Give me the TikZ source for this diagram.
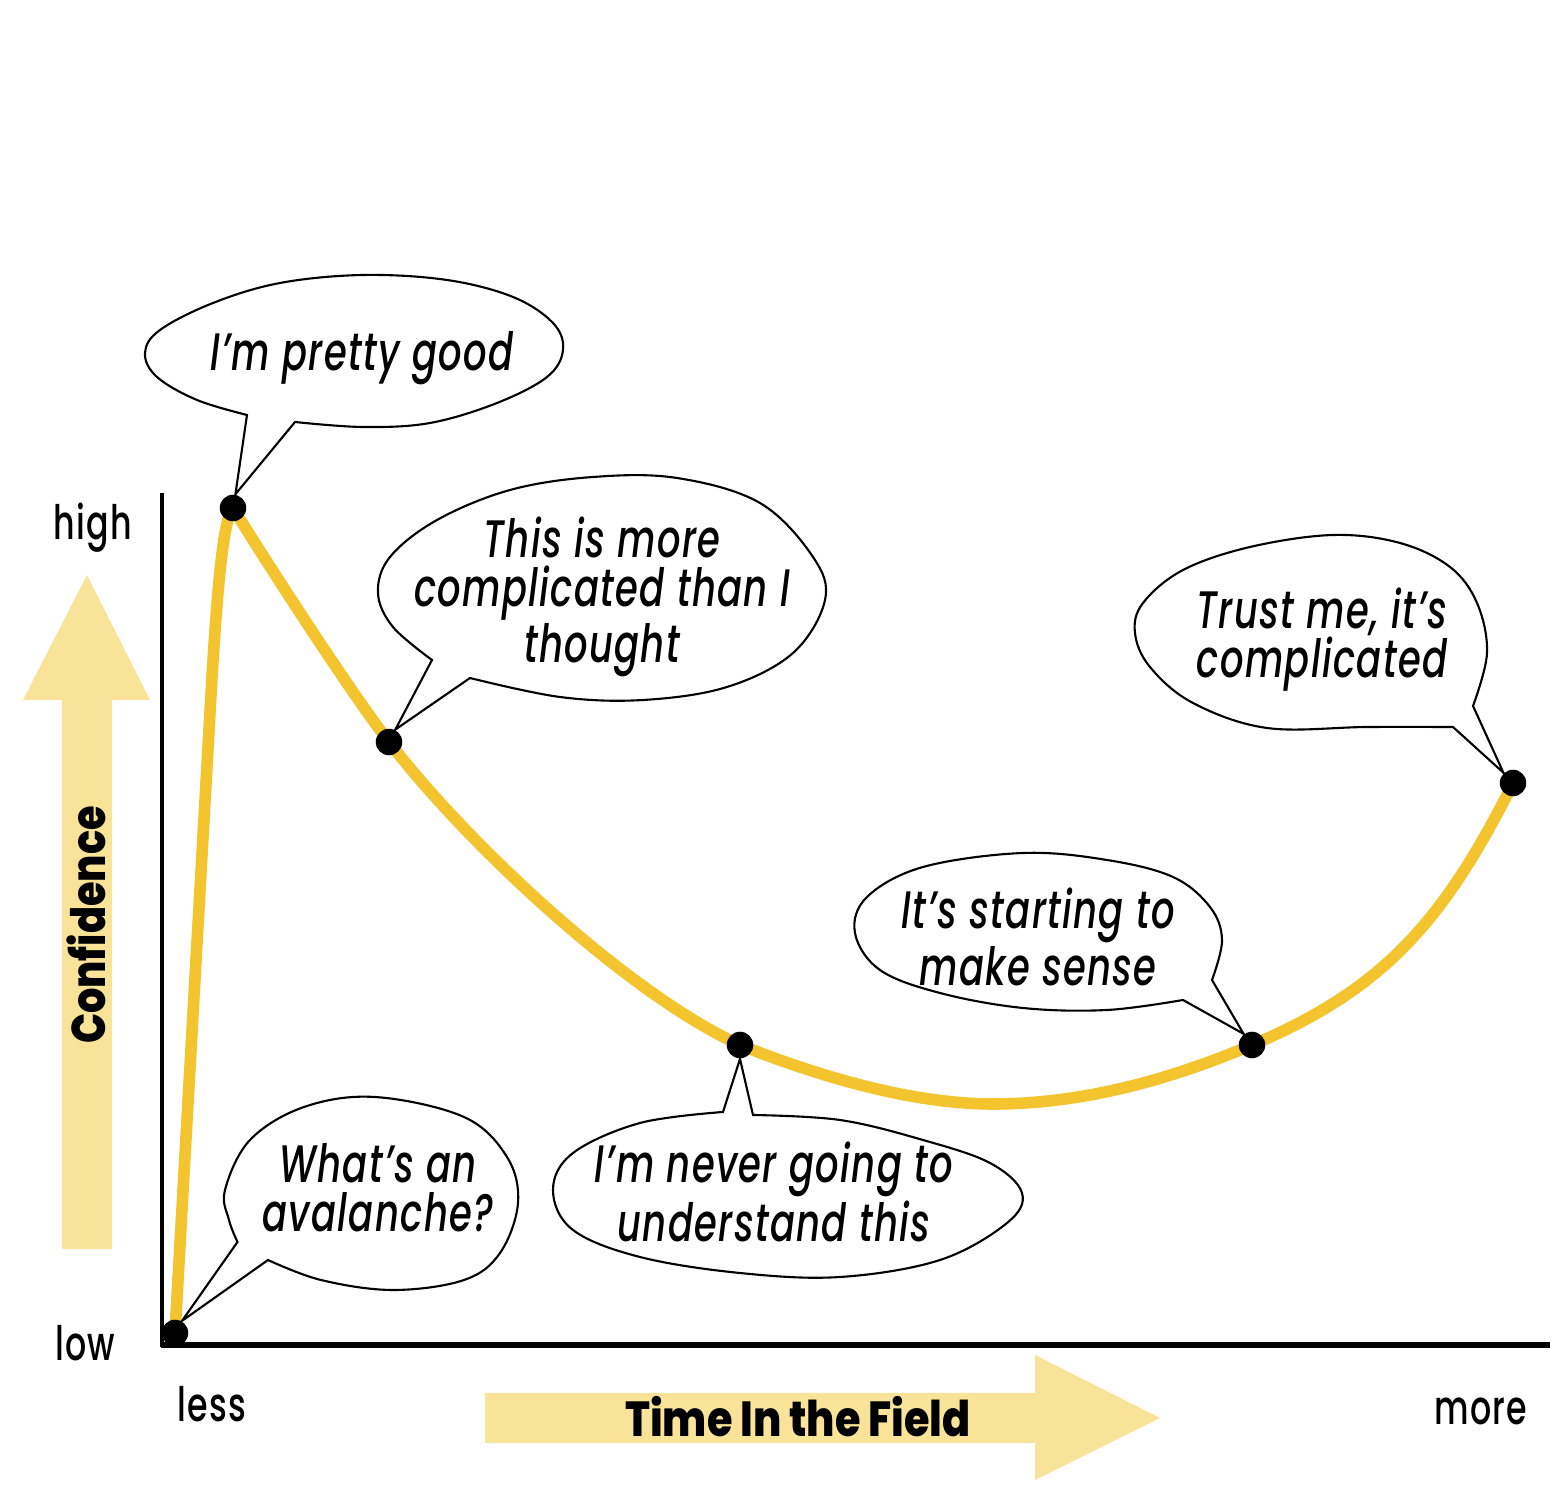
\documentclass[tikz,border=0pt]{standalone}
\usepackage{fontspec}
\setmainfont{Poppins}[FakeStretch=0.70, LetterSpace=2.5, UprightFont=* Medium, ItalicFont=* Medium Italic]
\newfontfamily\titlefont{Poppins}[FakeStretch=0.84, BoldFont=* ExtraBold]
\usetikzlibrary{backgrounds}
\definecolor{curvey}{RGB}{243,196,46}
\definecolor{arrowy}{RGB}{248,227,152}
\begin{document}
\begin{tikzpicture}[x=0.01cm,y=-0.01cm,
  curve/.style={draw=curvey, line width=3.3pt, line cap=round, line join=round},
  dot/.style={circle, fill=black, inner sep=0pt, minimum size=0.265cm},
  bubble/.style={draw=black, fill=white, line width=0.6pt, line join=miter},
  saying/.style={align=center, font=\fontsize{15pt}{13.9pt}\selectfont\itshape, inner sep=0pt},
  tick/.style={anchor=base, font=\fontsize{13.5pt}{15pt}\selectfont, inner sep=0pt},
  axtitle/.style={anchor=base, font=\fontsize{14pt}{16pt}\selectfont\titlefont\bfseries, inner sep=0pt},
  bigarrow/.style={fill=arrowy}]
\useasboundingbox (0,0) rectangle (1563,1510);

% dots on the curve
\node[dot] (d0) at (175,1333) {};
\node[dot] (d1) at (233,508) {};
\node[dot] (d2) at (389,742) {};
\node[dot] (d3) at (740,1045) {};
\node[dot] (d4) at (1252,1045) {};
\node[dot] (d5) at (1513,783) {};
\coordinate (bottom) at (993,1104);

\begin{scope}[on background layer]
  \fill[white] (0,0) rectangle (1563,1510);
  % big arrows
  \fill[bigarrow] (62,1249) -- (62,700) -- (23,700) -- (87,575) -- (150,700) -- (112,700) -- (112,1249) -- cycle;
  \fill[bigarrow] (485,1393) -- (1035,1393) -- (1035,1355) -- (1160,1418) -- (1035,1480) -- (1035,1443) -- (485,1443) -- cycle;
  % axes
  \draw[line width=1pt] (162,493) -- (162,1347);
  \draw[line width=1.45pt] (160.5,1345) -- (1550,1345);
  % curve
  \draw[curve] (d0.center) -- (209,730) .. controls (214.5,630) and (221,520) .. (d1.center)
    .. controls (265,560) and (349,690) .. (d2.center)
    .. controls (469,846) and (630,995) .. (d3.center)
    .. controls (820,1077) and (913,1104) .. (bottom)
    .. controls (1080,1104) and (1167,1081) .. (d4.center)
    .. controls (1382,990) and (1443,923) .. (d5.center);
\end{scope}

% speech bubbles
\draw[bubble] (d1.80) -- (295,422) -- plot[smooth, tension=0.6] coordinates {(295,422) (363,427) (430,423) (497,403) (547,377) (563,350) (553,323) (513,297) (447,280) (363,275) (280,283) (213,303) (160,330) (145,353) (157,377) (197,400) (247,415)} -- cycle;
\draw[bubble] (d2.63) -- (470,678) -- plot[smooth, tension=0.6] coordinates {(470,678) (560,697) (643,700) (727,687) (793,653) (825,600) (813,557) (760,503) (677,478) (593,477) (510,490) (437,520) (390,557) (378,593) (393,627) (432,660)} -- cycle;
\draw[bubble] (d5.133) -- (1473,706) -- plot[smooth, tension=0.6] coordinates {(1473,706) (1487,653) (1477,603) (1450,567) (1400,543) (1333,535) (1250,547) (1183,570) (1143,603) (1135,633) (1150,667) (1193,703) (1267,728) (1367,727) (1453,727)} -- cycle;
\draw[bubble] (d4.127) -- (1212,980) -- plot[smooth, tension=0.6] coordinates {(1212,980) (1222,940) (1210,907) (1173,877) (1107,860) (1023,853) (923,867) (867,897) (855,933) (880,970) (940,993) (1023,1008) (1107,1010) (1183,1000)} -- cycle;
\draw[bubble] (d3.south) -- (753,1115) -- plot[smooth, tension=0.6] coordinates {(753,1115) (840,1120) (923,1140) (990,1163) (1022,1193) (1007,1223) (940,1260) (840,1277) (740,1273) (640,1257) (573,1230) (553,1190) (573,1153) (640,1123) (723,1112)} -- cycle;
\draw[bubble] (d0.60) -- (268,1260) -- plot[smooth, tension=0.6] coordinates {(268,1260) (321,1280) (393,1290) (464,1280) (500,1253) (518,1203) (507,1157) (464,1117) (375,1097) (304,1107) (250,1140) (225,1190) (229,1220) (237.5,1242)} -- cycle;

% bubble texts
\node[saying, anchor=base] (t1) at (362,371) {I’m pretty good};
\node[saying] (t2) at (602,597) {This is more\\complicated than I\\thought};
\node[saying] (t3) at (1322,640) {Trust me, it’s\\complicated};
\node[saying] (t4) at (1038,937) {It’s starting to\\make sense};
\node[saying] (t5) at (774,1192) {I’m never going to\\understand this};
\node[saying] (t6) at (378,1188) {What’s an\\avalanche?};

% axis labels
\node[tick] (high) at (93,540) {high};
\node[tick] (low) at (85,1360) {low};
\node[tick] (less) at (212,1422) {less};
\node[tick] (more) at (1481,1425) {more};
\node[axtitle] (time) at (798,1436) {Time In the Field};
\node[axtitle, rotate=90, font=\fontsize{13.5pt}{16pt}\selectfont\titlefont\bfseries] (conf) at (105,925) {Confidence};
\end{tikzpicture}
\end{document}
